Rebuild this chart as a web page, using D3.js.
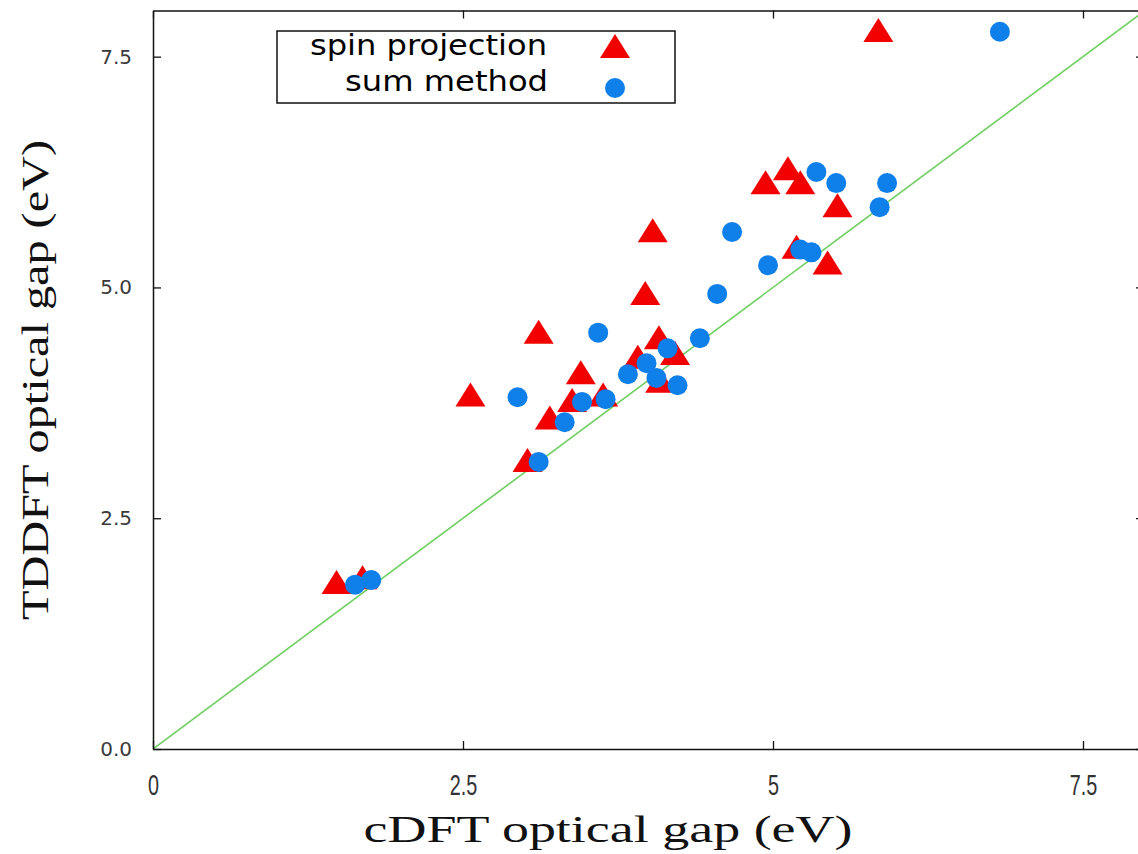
<!DOCTYPE html>
<html>
<head>
<meta charset="utf-8">
<script src="https://cdn.jsdelivr.net/npm/d3@7"></script>
<style>
  html, body { margin: 0; padding: 0; background: #fff; overflow: hidden; }
  svg { display: block; }
</style>
</head>
<body>
<svg id="chart" width="1138" height="854"></svg>
<script>
// ---- data ----
const spinX = [5.85, 1.48, 1.69, 2.56, 3.11, 3.02, 3.20, 3.45, 3.38, 3.63, 3.97, 4.03, 4.08, 3.91, 4.09, 4.21, 4.94, 5.12, 5.22, 5.52, 5.19, 5.44];
const spinY = [7.79, 1.81, 1.86, 3.84, 4.52, 3.13, 3.59, 4.08, 3.78, 3.84, 4.94, 5.62, 4.46, 4.25, 3.99, 4.29, 6.14, 6.29, 6.14, 5.89, 5.44, 5.27];
const sumX  = [6.83, 1.63, 1.76, 2.94, 3.11, 3.32, 3.46, 3.65, 3.59, 3.83, 3.98, 4.15, 4.06, 4.23, 4.41, 4.55, 4.67, 4.96, 5.22, 5.31, 5.35, 5.51, 5.86, 5.92];
const sumY  = [7.77, 1.78, 1.83, 3.81, 3.11, 3.54, 3.76, 3.79, 4.51, 4.06, 4.18, 4.34, 4.02, 3.94, 4.45, 4.93, 5.60, 5.24, 5.41, 5.38, 6.25, 6.13, 5.87, 6.13];
const xTicks = [0, 2.5, 5, 7.5];
const xTickLabels = ["0", "2.5", "5", "7.5"];
const yTicks = [0, 2.5, 5, 7.5];
const yTickLabels = ["0.0", "2.5", "5.0", "7.5"];
const seriesNames = ["spin projection", "sum method"];
const xTitle = "cDFT optical gap (eV)";
const yTitle = "TDDFT optical gap (eV)";
const diagLine = [0, 8];

// ---- layout ----
const svg = d3.select("#chart");
const L = 153, R = 1145, T = 10.5, B = 749;
const x = d3.scaleLinear().domain([0, 8]).range([L, R]);
const y = d3.scaleLinear().domain([0, 8]).range([B, T]);

svg.append("rect").attr("width", 1138).attr("height", 854).attr("fill", "#fff");

svg.append("defs").append("clipPath").attr("id", "plotclip")
  .append("rect").attr("x", L).attr("y", T).attr("width", R - L).attr("height", B - T);

// diagonal y = x
svg.append("line")
  .attr("clip-path", "url(#plotclip)")
  .attr("x1", x(diagLine[0])).attr("y1", y(diagLine[0]))
  .attr("x2", x(diagLine[1])).attr("y2", y(diagLine[1]))
  .attr("stroke", "#6fcf60").attr("stroke-width", 1.6);

// axes
const axB = svg.append("g").attr("transform", `translate(0,${B})`)
  .call(d3.axisBottom(x).tickValues(xTicks).tickSizeInner(-8).tickSizeOuter(0)
        .tickPadding(25).tickFormat((d, i) => xTickLabels[i]));
const axT = svg.append("g").attr("transform", `translate(0,${T})`)
  .call(d3.axisTop(x).tickValues(xTicks).tickSizeInner(-8).tickSizeOuter(0).tickFormat(""));
const axL = svg.append("g").attr("transform", `translate(${L},0)`)
  .call(d3.axisLeft(y).tickValues(yTicks).tickSizeInner(-8).tickSizeOuter(0)
        .tickPadding(21).tickFormat((d, i) => yTickLabels[i]));
const axR = svg.append("g").attr("transform", `translate(${R},0)`)
  .call(d3.axisRight(y).tickValues(yTicks).tickSizeInner(-9).tickSizeOuter(0).tickFormat(""));

[axB, axT, axL, axR].forEach(g => {
  g.select(".domain").attr("stroke", "#111").attr("stroke-width", 1.5);
  g.selectAll(".tick line").attr("stroke", "#111").attr("stroke-width", 1.3);
});
axB.selectAll(".tick text")
  .attr("font-family", "'Liberation Sans', Arial, sans-serif")
  .attr("font-size", 30).attr("fill", "#333")
  .attr("dy", "0.71em")
  .attr("transform", "scale(0.66,1)");
axL.selectAll(".tick text")
  .attr("font-family", "'DejaVu Sans', sans-serif")
  .attr("font-size", 20).attr("fill", "#3a3a3a");

// axis titles
svg.append("text")
  .attr("x", 608).attr("y", 842)
  .attr("text-anchor", "middle")
  .attr("font-family", "'Liberation Serif', 'Times New Roman', serif")
  .attr("font-size", 38).attr("fill", "#111")
  .attr("textLength", 489).attr("lengthAdjust", "spacingAndGlyphs")
  .text(xTitle);
svg.append("text")
  .attr("transform", "translate(48,380) rotate(-90)")
  .attr("text-anchor", "middle")
  .attr("font-family", "'Liberation Serif', 'Times New Roman', serif")
  .attr("font-size", 38).attr("fill", "#111")
  .attr("textLength", 480).attr("lengthAdjust", "spacingAndGlyphs")
  .text(yTitle);

// markers
const RED = "#f20000", BLUE = "#0f7fea";
const triPath = "M0,-12 L15,12 L-15,12 Z";
const spin = spinX.map((v, i) => ({ x: v, y: spinY[i] }));
const sum = sumX.map((v, i) => ({ x: v, y: sumY[i] }));

svg.append("g").selectAll("path").data(spin).join("path")
  .attr("d", triPath)
  .attr("transform", d => `translate(${x(d.x)},${y(d.y)})`)
  .attr("fill", RED);

svg.append("g").selectAll("circle").data(sum).join("circle")
  .attr("cx", d => x(d.x)).attr("cy", d => y(d.y)).attr("r", 10)
  .attr("fill", BLUE);

// legend
const lg = svg.append("g");
lg.append("rect").attr("x", 277).attr("y", 31).attr("width", 398).attr("height", 72)
  .attr("fill", "#fff").attr("stroke", "#111").attr("stroke-width", 1.5);
lg.append("text").attr("x", 547).attr("y", 55).attr("text-anchor", "end")
  .attr("font-family", "'DejaVu Sans', sans-serif").attr("font-size", 28).attr("fill", "#000")
  .attr("textLength", 237).attr("lengthAdjust", "spacingAndGlyphs")
  .text(seriesNames[0]);
lg.append("text").attr("x", 548).attr("y", 91).attr("text-anchor", "end")
  .attr("font-family", "'DejaVu Sans', sans-serif").attr("font-size", 28).attr("fill", "#000")
  .attr("textLength", 203).attr("lengthAdjust", "spacingAndGlyphs")
  .text(seriesNames[1]);
lg.append("path").attr("d", triPath).attr("transform", "translate(615,46)").attr("fill", RED);
lg.append("circle").attr("cx", 615).attr("cy", 88).attr("r", 10).attr("fill", BLUE);
</script>
</body>
</html>
